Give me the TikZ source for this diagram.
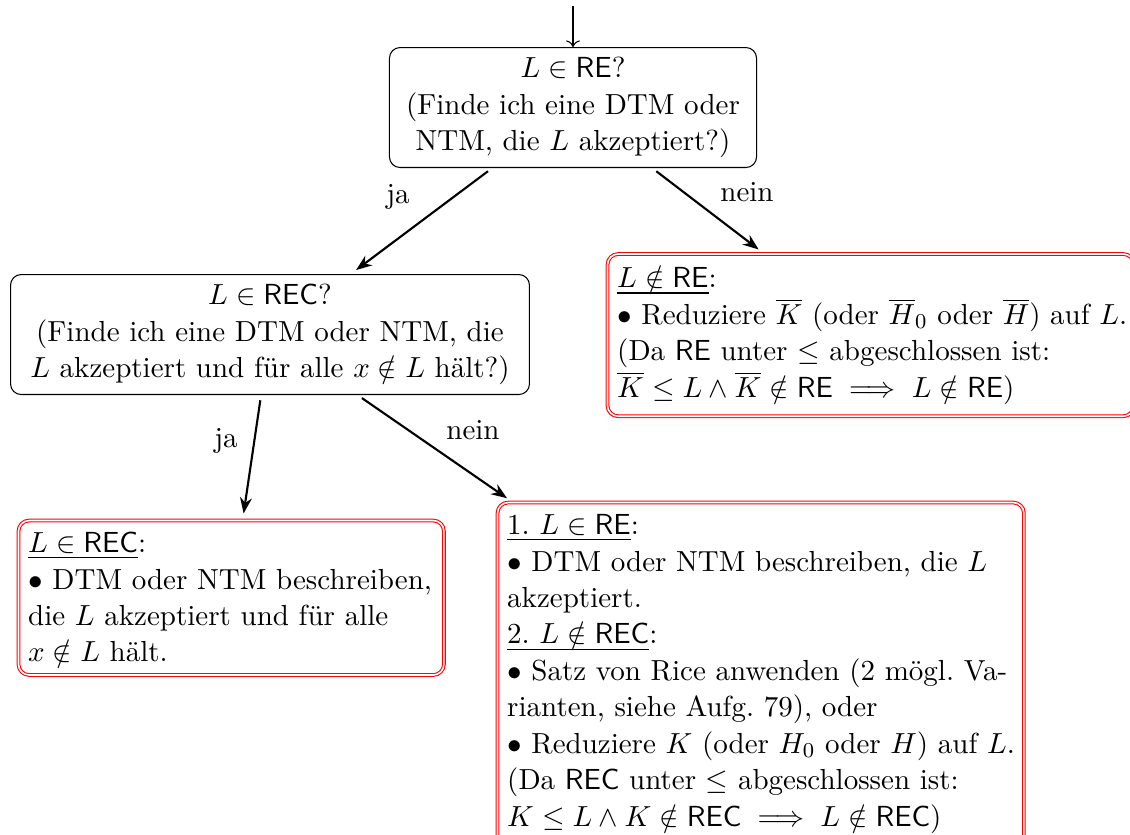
\documentclass[11pt,tikz,border=0pt]{standalone}
\usepackage{amsmath,amssymb}
\usetikzlibrary{arrows.meta}
\newcommand{\cRE}{\mathsf{RE}}
\newcommand{\cREC}{\mathsf{REC}}
\begin{document}
\begin{tikzpicture}[x=0.37736pt, y=-0.37736pt,
  qbox/.style={draw, rounded corners=4pt, align=flush center, inner sep=3.66pt,
    font=\fontsize{10.95pt}{13.75pt}\selectfont},
  ansbox/.style={draw=red, double, rounded corners=4pt, align=flush left,
    inner xsep=3.66pt, inner ysep=4.5pt, font=\fontsize{10.95pt}{13.75pt}\selectfont},
  arr/.style={-{Stealth[length=6pt]}, thick, shorten <=2pt, shorten >=2.5pt},
  lab/.style={inner sep=0pt}]
\path[use as bounding box] (0,0) rectangle (1130,834);
\clip (0,0) rectangle (1130,834);

\coordinate (in) at (573,6);
\node[qbox, anchor=north, text width=131.2pt] (q1) at (573,47)
  {$L \in \cRE$?\\ (Finde ich eine DTM oder\\ NTM, die $L$ akzeptiert?)};
\node[qbox, anchor=north, text width=188.5pt] (q2) at (270,274)
  {$L \in \cREC$?\\ (Finde ich eine DTM oder NTM, die\\ $L$ akzeptiert und f\"ur alle $x \notin L$ h\"alt?)};

\node[ansbox, anchor=north west, text width=191.3pt] (a1) at (607,253.5)
  {\underline{$L \notin \cRE$}:\\
   \mbox{$\bullet$ Reduziere $\overline{K}$ (oder $\overline{H}_0$ oder $\overline{H}$) auf $L$.}\\
   (Da $\cRE$ unter $\leq$ abgeschlossen ist:\\
   $\overline{K} \leq L \land \overline{K} \notin \cRE \implies L \notin \cRE$)};

\node[ansbox, anchor=north west, text width=153.2pt] (a2) at (18,520)
  {\underline{$L \in \cREC$}:\\
   \mbox{$\bullet$ DTM oder NTM beschreiben,}\\
   \mbox{die $L$ akzeptiert und f\"ur alle}\\
   $x \notin L$ h\"alt.};

\node[ansbox, anchor=north west, text width=191.3pt] (a3) at (497,502)
  {\underline{1.\ $L \in \cRE$}:\\
   \mbox{$\bullet$ DTM oder NTM beschreiben, die $L$}\\
   akzeptiert.\\
   \underline{2.\ $L \notin \cREC$}:\\
   \mbox{$\bullet$ Satz von Rice anwenden (2 m\"ogl.\ Va-}\\
   rianten, siehe Aufg.~79), oder\\
   \mbox{$\bullet$ Reduziere $K$ (oder $H_0$ oder $H$) auf $L$.}\\
   (Da $\cREC$ unter $\leq$ abgeschlossen ist:\\
   \mbox{$K \leq L \land K \notin \cREC \implies L \notin \cREC$)}};

\draw[->] (in) -- (q1);
\draw[arr] (q1) -- (q2);
\draw[arr] (q1) -- (a1);
\draw[arr] (q2) -- (a2);
\draw[arr] (q2) -- (a3);

\node[lab] (l1) at (398,197) {ja};
\node[lab] (l2) at (747,192) {nein};
\node[lab] (l3) at (226,441) {ja};
\node[lab] (l4) at (473,430) {nein};
\end{tikzpicture}
\end{document}
